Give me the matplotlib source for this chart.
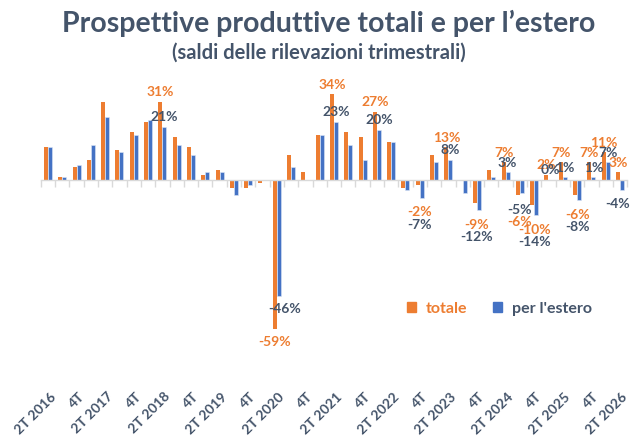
import matplotlib
matplotlib.use("Agg")
import matplotlib.pyplot as plt
from matplotlib.patches import Patch
import numpy as np

plt.rcParams['font.family'] = ['Lato', 'DejaVu Sans']

# ---------------- data ----------------
quarters = ["2T 2016", "3T 2016", "4T 2016", "1T 2017", "2T 2017", "3T 2017", "4T 2017", "1T 2018",
            "2T 2018", "3T 2018", "4T 2018", "1T 2019", "2T 2019", "3T 2019", "4T 2019", "1T 2020",
            "2T 2020", "3T 2020", "4T 2020", "1T 2021", "2T 2021", "3T 2021", "4T 2021", "1T 2022",
            "2T 2022", "3T 2022", "4T 2022", "1T 2023", "2T 2023", "3T 2023", "4T 2023", "1T 2024",
            "2T 2024", "3T 2024", "4T 2024", "1T 2025", "2T 2025", "3T 2025", "4T 2025", "1T 2026",
            "2T 2026"]
totale = [13, 1, 5, 8, 31, 12, 19, 23, 31, 17, 13, 2, 4, -3, -3, -1, -59, 10, 3, 18, 34, 19, 17, 27, 15,
          -3, -2, 10, 13, 0, -9, 4, 7, -6, -10, 2, 7, -6, 7, 11, 3]
estero = [13, 1, 6, 14, 25, 11, 18, 24, 21, 14, 10, 3, 3, -6, -2, 0, -46, 5, 0, 18, 23, 14, 8, 20, 15,
          -4, -7, 7, 8, -5, -12, 1, 3, -5, -14, 0, 1, -8, 1, 7, -4]
labeled = [8, 16, 20, 23, 26, 28, 30, 32, 33, 34, 35, 36, 37, 38, 39, 40]
tick_labels = ["2T 2016", "4T", "2T 2017", "4T", "2T 2018", "4T", "2T 2019", "4T", "2T 2020", "4T",
               "2T 2021", "4T", "2T 2022", "4T", "2T 2023", "4T", "2T 2024", "4T", "2T 2025", "4T",
               "2T 2026"]
series_names = ["totale", "per l'estero"]

ORANGE = "#ED7D31"
BLUE = "#4472C4"
DARK = "#44546A"
GRID = "#D9D9D9"

fig = plt.figure(figsize=(6.32, 4.36), dpi=100)
ax = fig.add_axes([0.0646, 0.1248, 0.9277, 0.6935])

x = np.arange(len(quarters))
w = 0.28
ax.bar(x - w / 2, totale, w, color=ORANGE, zorder=2)
ax.bar(x + w / 2, estero, w, color=BLUE, edgecolor="#DCE6F5", linewidth=0.4, zorder=2)

ax.set_xlim(-0.5, len(quarters) - 0.5)
ax.set_ylim(-80, 40)

for s in ["top", "right", "left"]:
    ax.spines[s].set_visible(False)
ax.spines["bottom"].set_position(("data", 0))
ax.spines["bottom"].set_color(GRID)
ax.spines["bottom"].set_linewidth(1.0)
ax.set_yticks([])
ax.set_xticks(np.arange(-0.5, len(quarters), 1.0))
ax.set_xticklabels([])
ax.tick_params(axis="x", length=5, color=GRID, width=1.0, direction="out")

# category labels sit at the bottom of the plot area (label position "low"),
# nudged right so the rotated text ends just past its category
sec = ax.secondary_xaxis("bottom")
sec.set_xticks(np.arange(0, len(quarters), 2) + 0.4)
sec.set_xticklabels(tick_labels)
sec.tick_params(length=0, pad=9.5)
sec.spines["bottom"].set_visible(False)
for lab in sec.get_xticklabels():
    lab.set_rotation(45)
    lab.set_ha("right")
    lab.set_va("center")
    lab.set_rotation_mode("anchor")
    lab.set_fontsize(10)
    lab.set_fontweight("bold")
    lab.set_color(DARK)

# data labels
lab_kw = dict(fontsize=10, fontweight="bold", ha="center", va="center", textcoords="offset points")
for i in labeled:
    t, e = totale[i], estero[i]
    xt, xe = x[i] - w / 2, x[i] + w / 2
    if t >= 0 and e >= 0:
        ax.annotate(f"{t}%", (xt, t), xytext=(0, 7), color=ORANGE, **lab_kw)
        ax.annotate(f"{e}%", (xe, e), xytext=(0, 7), color=DARK, **lab_kw)
    elif t >= 0 and e < 0:
        ax.annotate(f"{t}%", (xt, t), xytext=(0, 7), color=ORANGE, **lab_kw)
        ax.annotate(f"{e}%", (x[i], e), xytext=(-2, -10), color=DARK, **lab_kw)
    elif min(t, e) < -30:
        ax.annotate(f"{t}%", (xt, t), xytext=(0, -9.5), color=ORANGE, **lab_kw)
        ax.annotate(f"{e}%", (xe, e), xytext=(4, -9.5), color=DARK, **lab_kw)
    else:
        low = min(t, e)
        first, second = ((t, ORANGE), (e, DARK)) if t >= e else ((e, DARK), (t, ORANGE))
        ax.annotate(f"{first[0]}%", (x[i], low), xytext=(0, -10.5), color=first[1], **lab_kw)
        ax.annotate(f"{second[0]}%", (x[i], low), xytext=(0, -19.5), color=second[1], **lab_kw)

# legend
handles = [Patch(color=ORANGE), Patch(color=BLUE)]
leg = fig.legend(handles, series_names, loc="center", bbox_to_anchor=(0.79, 0.292), ncol=2,
                 frameon=False, handlelength=0.6, handleheight=0.6, handletextpad=0.6,
                 columnspacing=1.6, prop=dict(size=11.5, weight="bold"))
leg.get_texts()[0].set_color(ORANGE)
leg.get_texts()[1].set_color(DARK)

fig.text(0.52, 0.947, "Prospettive produttive totali e per l\u2019estero", ha="center", va="center",
         fontsize=20.5, fontweight="bold", color=DARK)
fig.text(0.505, 0.88, "(saldi delle rilevazioni trimestrali)", ha="center", va="center",
         fontsize=14.5, fontweight="bold", color=DARK)

fig.savefig("out.png", dpi=100)
